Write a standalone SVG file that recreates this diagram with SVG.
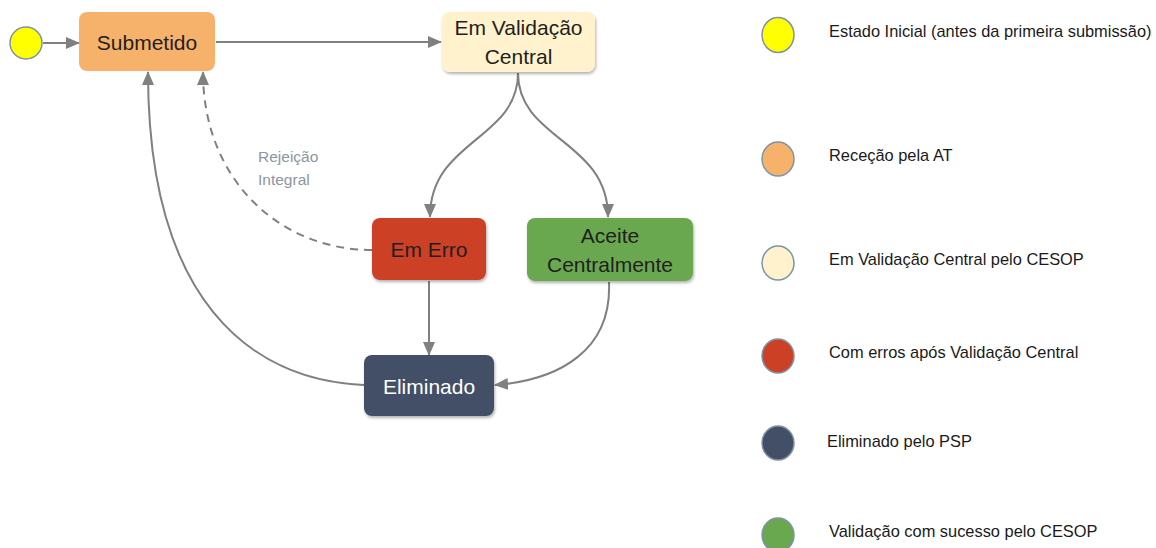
<svg xmlns="http://www.w3.org/2000/svg" width="1156" height="548" viewBox="0 0 1156 548">
<style>
.node text{font-family:"Liberation Sans",Arial,sans-serif;font-size:21px;fill:#1f1f1f;text-anchor:middle}
.conn path,.conn line{fill:none;stroke:#808080;stroke-width:2}
.dash{stroke-dasharray:8 6}
.lbl{font-family:"Liberation Sans",Arial,sans-serif;font-size:15.5px;fill:#8d96a3}
.leg text{font-family:"Liberation Sans",Arial,sans-serif;font-size:16.4px;fill:#1a1a1a}
.leg ellipse{stroke:#7d93a8;stroke-width:1.5}
</style>
<defs>
<marker id="arr" viewBox="0 0 14 12" refX="13" refY="6" markerWidth="14" markerHeight="12" markerUnits="userSpaceOnUse" orient="auto">
<path d="M0,0 L14,6 L0,12 Z" fill="#808080"/>
</marker>
<filter id="sh" x="-10%" y="-10%" width="125%" height="130%">
<feDropShadow dx="1" dy="2" stdDeviation="1.5" flood-color="#000" flood-opacity="0.3"/>
</filter>
</defs>
<rect width="1156" height="548" fill="#fff"/>

<g class="conn">
<line x1="43" y1="43" x2="79" y2="43" marker-end="url(#arr)"/>
<line x1="216" y1="42" x2="441" y2="42" marker-end="url(#arr)"/>
<path d="M518,73 C518,140 430,140 430,217" marker-end="url(#arr)"/>
<path d="M518,73 C518,140 608,140 608,217" marker-end="url(#arr)"/>
<line x1="429" y1="281" x2="429" y2="355" marker-end="url(#arr)"/>
<path d="M609,282 C612,350 560,380 495,385" marker-end="url(#arr)"/>
<path d="M364,385 C250,380 148,300 148,72" marker-end="url(#arr)"/>
<path class="dash" d="M372,250 C280,250 203,180 203,72" marker-end="url(#arr)"/>
<text class="lbl" x="258" y="162">Rejeição</text>
<text class="lbl" x="258" y="185">Integral</text>
</g>

<g id="initial">
<ellipse cx="26" cy="43" rx="16" ry="16" fill="#ffff00" stroke="#7d93a8" stroke-width="1.5"/>
</g>
<g id="submetido" class="node">
<rect x="79" y="12" width="136" height="59" rx="8" fill="#f6b26b"/>
<text x="147" y="50">Submetido</text>
</g>
<g id="validacao" class="node">
<rect x="442" y="12" width="153" height="60" rx="8" fill="#fff2cc" filter="url(#sh)"/>
<text x="518.5" y="35">Em Validação</text>
<text x="518.5" y="64">Central</text>
</g>
<g id="erro" class="node">
<rect x="372" y="218" width="114" height="62" rx="8" fill="#cc4125" filter="url(#sh)"/>
<text x="429" y="257">Em Erro</text>
</g>
<g id="aceite" class="node">
<rect x="527" y="218" width="166" height="63" rx="8" fill="#6aa84f" filter="url(#sh)"/>
<text x="610" y="243">Aceite</text>
<text x="610" y="272">Centralmente</text>
</g>
<g id="eliminado" class="node">
<rect x="364" y="355" width="130" height="61" rx="8" fill="#434f66" filter="url(#sh)"/>
<text x="429" y="394" style="fill:#fff">Eliminado</text>
</g>

<g id="legend" class="leg">
<ellipse cx="778" cy="35" rx="16" ry="17.5" fill="#ffff00"/>
<text x="829" y="37">Estado Inicial (antes da primeira submissão)</text>
<ellipse cx="778" cy="159" rx="16" ry="17" fill="#f6b26b"/>
<text x="829" y="161">Receção pela AT</text>
<ellipse cx="778" cy="263" rx="16" ry="17" fill="#fff2cc"/>
<text x="829" y="265">Em Validação Central pelo CESOP</text>
<ellipse cx="778" cy="356" rx="16" ry="17" fill="#cc4125"/>
<text x="829" y="358">Com erros após Validação Central</text>
<ellipse cx="778" cy="443" rx="16" ry="17" fill="#434f66"/>
<text x="827" y="447">Eliminado pelo PSP</text>
<ellipse cx="778" cy="535" rx="16" ry="17" fill="#6aa84f"/>
<text x="829" y="537">Validação com sucesso pelo CESOP</text>
</g>
</svg>
